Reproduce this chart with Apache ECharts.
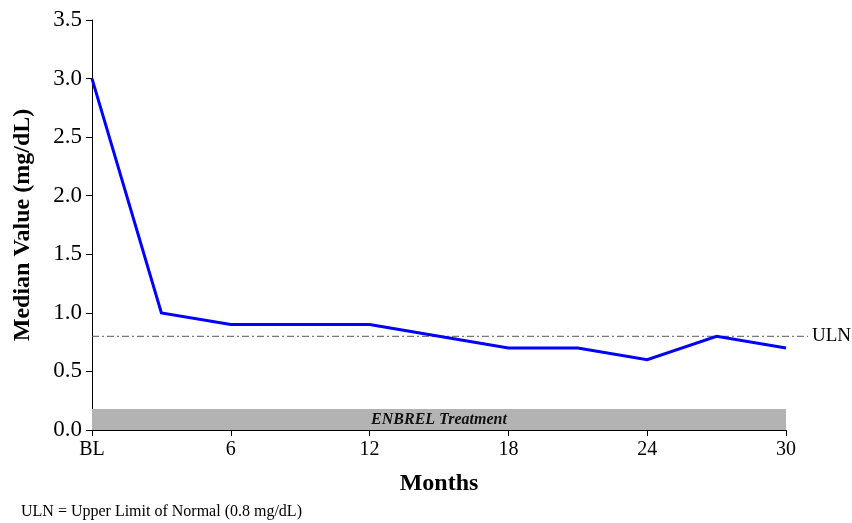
<!DOCTYPE html>
<html><head><meta charset="utf-8">
<script src="https://cdn.jsdelivr.net/npm/echarts@6/dist/echarts.min.js"></script>
<style>html,body{margin:0;padding:0;background:#fff}#c{width:852px;height:523px}</style>
</head><body><div id="c"></div>
<script>
const months = [0, 3, 6, 9, 12, 15, 18, 21, 24, 27, 30];
const medianValues = [3.0, 1.0, 0.9, 0.9, 0.9, 0.8, 0.7, 0.7, 0.6, 0.8, 0.7];
const xTicks = {0: 'BL', 6: '6', 12: '12', 18: '18', 24: '24', 30: '30'};
const ulnValue = 0.8;
const ulnSpan = [0, 30.95];
const treatmentBand = {start: 0, end: 30, height: 0.18, label: 'ENBREL Treatment'};

const font = 'Liberation Serif, Times New Roman, serif';
const chart = echarts.init(document.getElementById('c'), null, {renderer: 'canvas'});
chart.setOption({
  backgroundColor: '#fff',
  animation: false,
  textStyle: {fontFamily: font},
  grid: [
    {left: 92, right: 66, top: 20, bottom: 93},
    {left: 92, right: 44, top: 20, bottom: 93}
  ],
  xAxis: [{
    type: 'value', gridIndex: 0, min: 0, max: 30, interval: 6,
    name: 'Months', nameLocation: 'middle', nameGap: 42,
    nameTextStyle: {fontFamily: font, fontSize: 24, fontWeight: 'bold', color: '#000'},
    axisLine: {show: true, lineStyle: {color: '#000', width: 1}},
    axisTick: {show: true, inside: false, length: 6, lineStyle: {color: '#000'}},
    axisLabel: {fontFamily: font, fontSize: 20, color: '#000', margin: 10,
      formatter: v => xTicks[v] !== undefined ? xTicks[v] : ''},
    splitLine: {show: false}
  }, {
    type: 'value', gridIndex: 1, min: ulnSpan[0], max: ulnSpan[1], show: false
  }],
  yAxis: [{
    type: 'value', gridIndex: 0, min: 0, max: 3.5, interval: 0.5,
    name: 'Median Value (mg/dL)', nameLocation: 'middle', nameGap: 57,
    nameTextStyle: {fontFamily: font, fontSize: 24, fontWeight: 'bold', color: '#000'},
    axisLine: {show: true, lineStyle: {color: '#000', width: 1}},
    axisTick: {show: true, inside: false, length: 6, lineStyle: {color: '#000'}},
    axisLabel: {fontFamily: font, fontSize: 23, color: '#000', margin: 10,
      formatter: v => v.toFixed(1)},
    splitLine: {show: false}
  }, {
    type: 'value', gridIndex: 1, min: 0, max: 3.5, show: false
  }],
  series: [{
    type: 'line', xAxisIndex: 1, yAxisIndex: 1, z: 1,
    data: ulnSpan.map(x => [x, ulnValue]),
    symbol: 'none', silent: true,
    lineStyle: {color: '#555', width: 1, type: [7, 3, 2, 3]},
    endLabel: {show: true, formatter: 'ULN', fontFamily: font, fontSize: 19, color: '#000', distance: 4}
  }, {
    type: 'line', xAxisIndex: 0, yAxisIndex: 0, z: 3,
    data: months.map((m, i) => [m, medianValues[i]]),
    symbol: 'none',
    lineStyle: {color: '#0000ff', width: 3, join: 'miter'},
    markArea: {
      silent: true,
      itemStyle: {color: '#b3b3b3', opacity: 1},
      label: {show: true, position: 'inside', formatter: treatmentBand.label,
        fontFamily: font, fontSize: 16, fontStyle: 'italic', fontWeight: 'bold', color: '#111'},
      data: [[{coord: [treatmentBand.start, 0]}, {coord: [treatmentBand.end, treatmentBand.height]}]]
    }
  }],
  graphic: [{
    type: 'text', left: 21, top: 504,
    style: {text: 'ULN = Upper Limit of Normal (0.8 mg/dL)', font: '16px ' + font, fill: '#000'}
  }]
});
</script></body></html>
